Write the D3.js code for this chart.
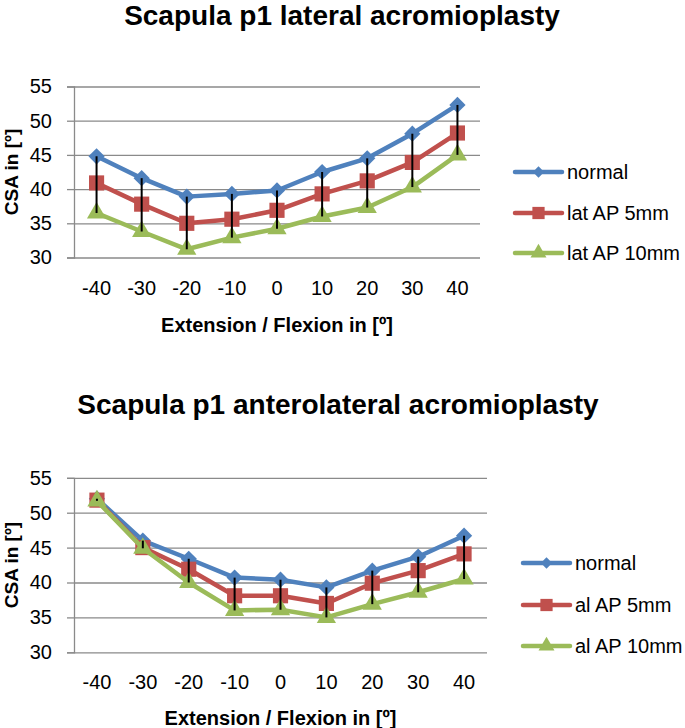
<!DOCTYPE html>
<html><head><meta charset="utf-8">
<script src="https://cdn.jsdelivr.net/npm/d3@7"></script>
<style>html,body{margin:0;padding:0;background:#fff;}</style>
</head><body>
<svg id="c" width="685" height="728"></svg>
<script>
const angles = [-40, -30, -20, -10, 0, 10, 20, 30, 40];
const yTicks = [30, 35, 40, 45, 50, 55];

const latNormal = [44.8, 41.6, 38.9, 39.3, 39.8, 42.5, 44.5, 48.1, 52.3];
const lat5mm    = [40.9, 37.8, 35.0, 35.6, 36.9, 39.3, 41.2, 43.9, 48.2];
const lat10mm   = [36.5, 33.8, 31.2, 32.9, 34.2, 36.0, 37.3, 40.3, 45.0];

const alNormal = [52.0, 46.0, 43.4, 40.7, 40.4, 39.3, 41.7, 43.7, 46.7];
const al5mm    = [51.8, 45.0, 41.9, 38.1, 38.1, 37.0, 39.9, 41.7, 44.1];
const al10mm   = [51.7, 44.9, 40.0, 36.0, 36.1, 35.0, 36.9, 38.6, 40.5];

const titles = ["Scapula p1 lateral acromioplasty", "Scapula p1 anterolateral acromioplasty"];
const legend1 = ["normal", "lat AP 5mm", "lat AP 10mm"];
const legend2 = ["normal", "al AP 5mm", "al AP 10mm"];
const yTitle = "CSA in [º]";
const xTitle = "Extension / Flexion in [º]";

const colors = ["#4F81BD", "#C0504D", "#9BBB59"];
const symbols = [d3.symbolSquare, d3.symbolSquare, d3.symbolTriangle];
const symRot = [45, 0, 0];
const symSize = [132, 230, 160];
const legSize = [64, 150, 110];
const FONT = "'Liberation Sans', Arial, sans-serif";

const svg = d3.select("#c");

function drawChart(cfg) {
  const g = svg.append("g");
  const x = d3.scaleBand().domain(angles).range([cfg.left, cfg.right]).padding(0);
  const y = d3.scaleLinear().domain([30, 55]).range([cfg.bottom, cfg.top]);

  // gridlines
  g.append("g").attr("transform", `translate(${cfg.left},0)`)
    .call(d3.axisLeft(y).tickValues(yTicks).tickSize(-(cfg.right - cfg.left)).tickFormat(""))
    .call(s => s.select(".domain").remove())
    .call(s => s.selectAll("line").attr("stroke", "#8a8a8a").attr("stroke-width", 1.3));

  // y axis
  g.append("g").attr("transform", `translate(${cfg.left},0)`)
    .call(d3.axisLeft(y).tickValues(yTicks).tickSize(7).tickPadding(15))
    .call(s => s.select(".domain").attr("stroke", "#8a8a8a").attr("stroke-width", 1.3))
    .call(s => s.selectAll("line").attr("stroke", "#8a8a8a").attr("stroke-width", 1.3))
    .call(s => s.selectAll("text").attr("font-family", FONT).attr("font-size", 20).attr("fill", "#000"));

  // x axis labels
  g.append("g").attr("transform", `translate(0,${cfg.bottom})`)
    .call(d3.axisBottom(x).tickSize(0).tickPadding(0))
    .call(s => s.select(".domain").remove())
    .call(s => s.selectAll("text").attr("font-family", FONT).attr("font-size", 20).attr("fill", "#000")
      .attr("dy", null).attr("y", cfg.xTickBase - cfg.bottom));

  // titles
  g.append("text").attr("x", cfg.titleX).attr("y", cfg.titleY).attr("text-anchor", "middle")
    .attr("font-family", FONT).attr("font-weight", "bold").attr("font-size", 28).text(cfg.title);
  g.append("text").attr("x", (cfg.left + cfg.right) / 2).attr("y", cfg.xTitleBase).attr("text-anchor", "middle")
    .attr("font-family", FONT).attr("font-weight", "bold").attr("font-size", 20).text(xTitle);
  g.append("text").attr("transform", `translate(18,${(cfg.top + cfg.bottom) / 2}) rotate(-90)`)
    .attr("text-anchor", "middle").attr("font-family", FONT).attr("font-weight", "bold").attr("font-size", 19).text(yTitle);

  const cx = d => x(d) + x.bandwidth() / 2;
  const line = d3.line().x((d, i) => cx(angles[i])).y(d => y(d));

  cfg.series.forEach((vals, k) => {
    g.append("path").datum(vals).attr("d", line).attr("fill", "none")
      .attr("stroke", colors[k]).attr("stroke-width", 4.5).attr("stroke-linejoin", "round");
    g.selectAll(null).data(vals).enter().append("path")
      .attr("d", d3.symbol().type(symbols[k]).size(symSize[k]))
      .attr("transform", (d, i) => `translate(${cx(angles[i])},${y(d)}) rotate(${symRot[k]})`)
      .attr("fill", colors[k]);
  });

  // high-low lines
  g.selectAll(null).data(angles).enter().append("line")
    .attr("x1", d => cx(d)).attr("x2", d => cx(d))
    .attr("y1", (d, i) => y(d3.max(cfg.series, s => s[i])))
    .attr("y2", (d, i) => y(d3.min(cfg.series, s => s[i])))
    .attr("stroke", "#000").attr("stroke-width", 2);

  // legend
  cfg.legend.forEach((name, k) => {
    const ly = cfg.legY[k];
    g.append("line").attr("x1", cfg.legX).attr("x2", cfg.legX + 47).attr("y1", ly).attr("y2", ly)
      .attr("stroke", colors[k]).attr("stroke-width", 4.5).attr("stroke-linecap", "round");
    g.append("path").attr("d", d3.symbol().type(symbols[k]).size(legSize[k]))
      .attr("transform", `translate(${cfg.legX + 23.5},${ly}) rotate(${symRot[k]})`).attr("fill", colors[k]);
    g.append("text").attr("x", cfg.legX + 52).attr("y", ly).attr("dy", "0.35em")
      .attr("font-family", FONT).attr("font-size", 20).text(name);
  });
}

drawChart({
  left: 74, right: 480, top: 86.5, bottom: 257.5,
  xTickBase: 295, xTitleBase: 332, titleX: 342, titleY: 25, title: titles[0],
  series: [latNormal, lat5mm, lat10mm], legend: legend1,
  legX: 515, legY: [172, 213, 253]
});
drawChart({
  left: 74, right: 487, top: 477.8, bottom: 652.3,
  xTickBase: 689, xTitleBase: 725, titleX: 338, titleY: 414, title: titles[1],
  series: [alNormal, al5mm, al10mm], legend: legend2,
  legX: 523, legY: [563, 605, 646]
});
</script>
</body></html>
